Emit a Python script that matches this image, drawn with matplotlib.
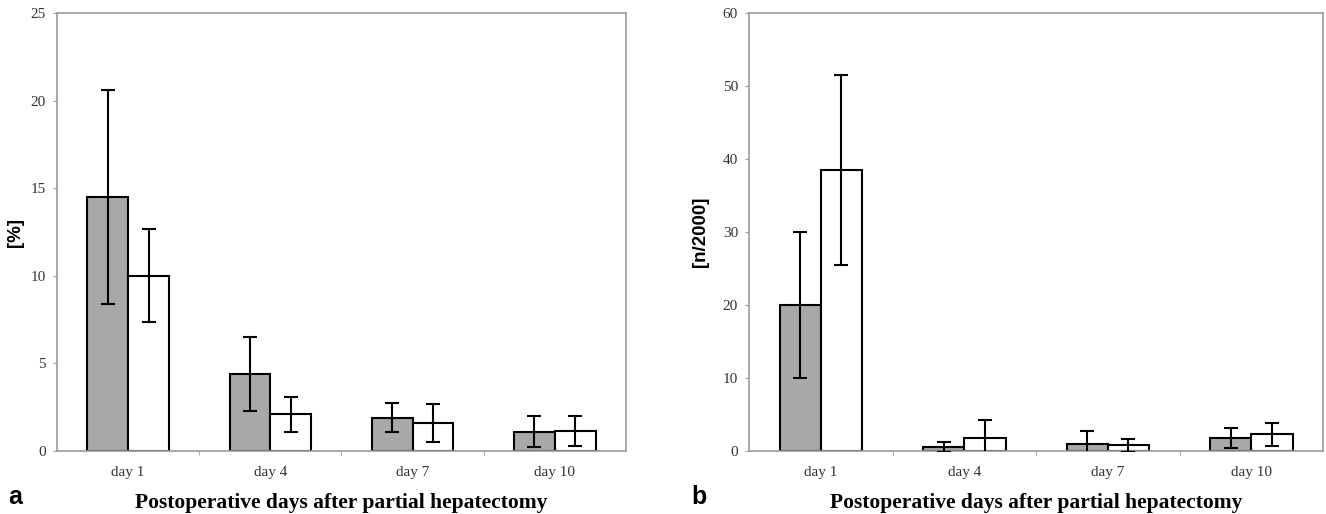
import numpy as np
import matplotlib
matplotlib.use("Agg")
import matplotlib.pyplot as plt
from matplotlib.ticker import FixedLocator

# kategorier
days = ["day 1", "day 4", "day 7", "day 10"]

# panel a  [%]
a_grey = [14.5, 4.4, 1.9, 1.1]
a_grey_err = [6.1, 2.1, 0.83, 0.87]
a_white = [10.0, 2.1, 1.6, 1.15]
a_white_err = [2.65, 1.0, 1.1, 0.87]

# panel b  [n/2000]
b_grey = [20.0, 0.55, 1.0, 1.8]
b_grey_err = [10.0, 0.7, 1.8, 1.4]
b_white = [38.5, 1.8, 0.8, 2.3]
b_white_err = [13.0, 2.5, 0.9, 1.6]

serif = "Liberation Serif"
frame_col = "#9a9a9a"
bw = 0.287


def lag_panel(ax, grey, grey_err, white, white_err, ymax, ystep, ylabel, ylab_x):
    x = np.arange(len(days))
    ax.bar(x - bw / 2, grey, bw, color="#a8a8a8", edgecolor="black", linewidth=1.5, zorder=2)
    ax.bar(x + bw / 2, white, bw, color="white", edgecolor="black", linewidth=1.5, zorder=2)
    ax.errorbar(x - bw / 2, grey, yerr=grey_err, fmt="none", ecolor="black",
                elinewidth=1.5, capsize=5, capthick=1.5, zorder=3)
    ax.errorbar(x + bw / 2, white, yerr=white_err, fmt="none", ecolor="black",
                elinewidth=1.5, capsize=5, capthick=1.5, zorder=3)
    ax.set_xlim(-0.5, len(days) - 0.5)
    ax.set_ylim(0, ymax)
    ax.set_yticks(np.arange(0, ymax + 0.1, ystep))
    ax.set_xticks(x)
    ax.set_xticklabels(days, fontfamily=serif, fontsize=11, color="#333333")
    ax.xaxis.set_minor_locator(FixedLocator(x[:-1] + 0.5))
    ax.tick_params(axis="x", which="major", length=0, pad=11)
    ax.tick_params(axis="x", which="minor", length=3, color=frame_col, direction="out")
    ax.tick_params(axis="y", length=3, color=frame_col, pad=5, labelsize=11, labelcolor="#333333")
    for lab in ax.get_yticklabels():
        lab.set_fontfamily(serif)
    for s in ax.spines.values():
        s.set_color(frame_col)
        s.set_linewidth(1.2)
    ax.set_xlabel("Postoperative days after partial hepatectomy", fontfamily=serif,
                  fontweight="bold", fontsize=15.5, labelpad=10)
    ax.set_ylabel(ylabel, fontfamily="Liberation Sans", fontweight="bold", fontsize=13.5)
    ax.yaxis.set_label_coords(ylab_x, 0.5)


fig = plt.figure(figsize=(13.26, 5.14), dpi=100)
ax1 = fig.add_axes([0.043, 0.1226, 0.429, 0.852])
ax2 = fig.add_axes([0.5649, 0.1226, 0.4329, 0.852])

lag_panel(ax1, a_grey, a_grey_err, a_white, a_white_err, 25, 5, "[%]", -0.058)
lag_panel(ax2, b_grey, b_grey_err, b_white, b_white_err, 60, 10, "[n/2000]", -0.07)

fig.text(0.006, 0.02, "a", fontfamily="Liberation Sans", fontweight="bold", fontsize=18)
fig.text(0.521, 0.02, "b", fontfamily="Liberation Sans", fontweight="bold", fontsize=18)

fig.savefig("out.png", dpi=100)
